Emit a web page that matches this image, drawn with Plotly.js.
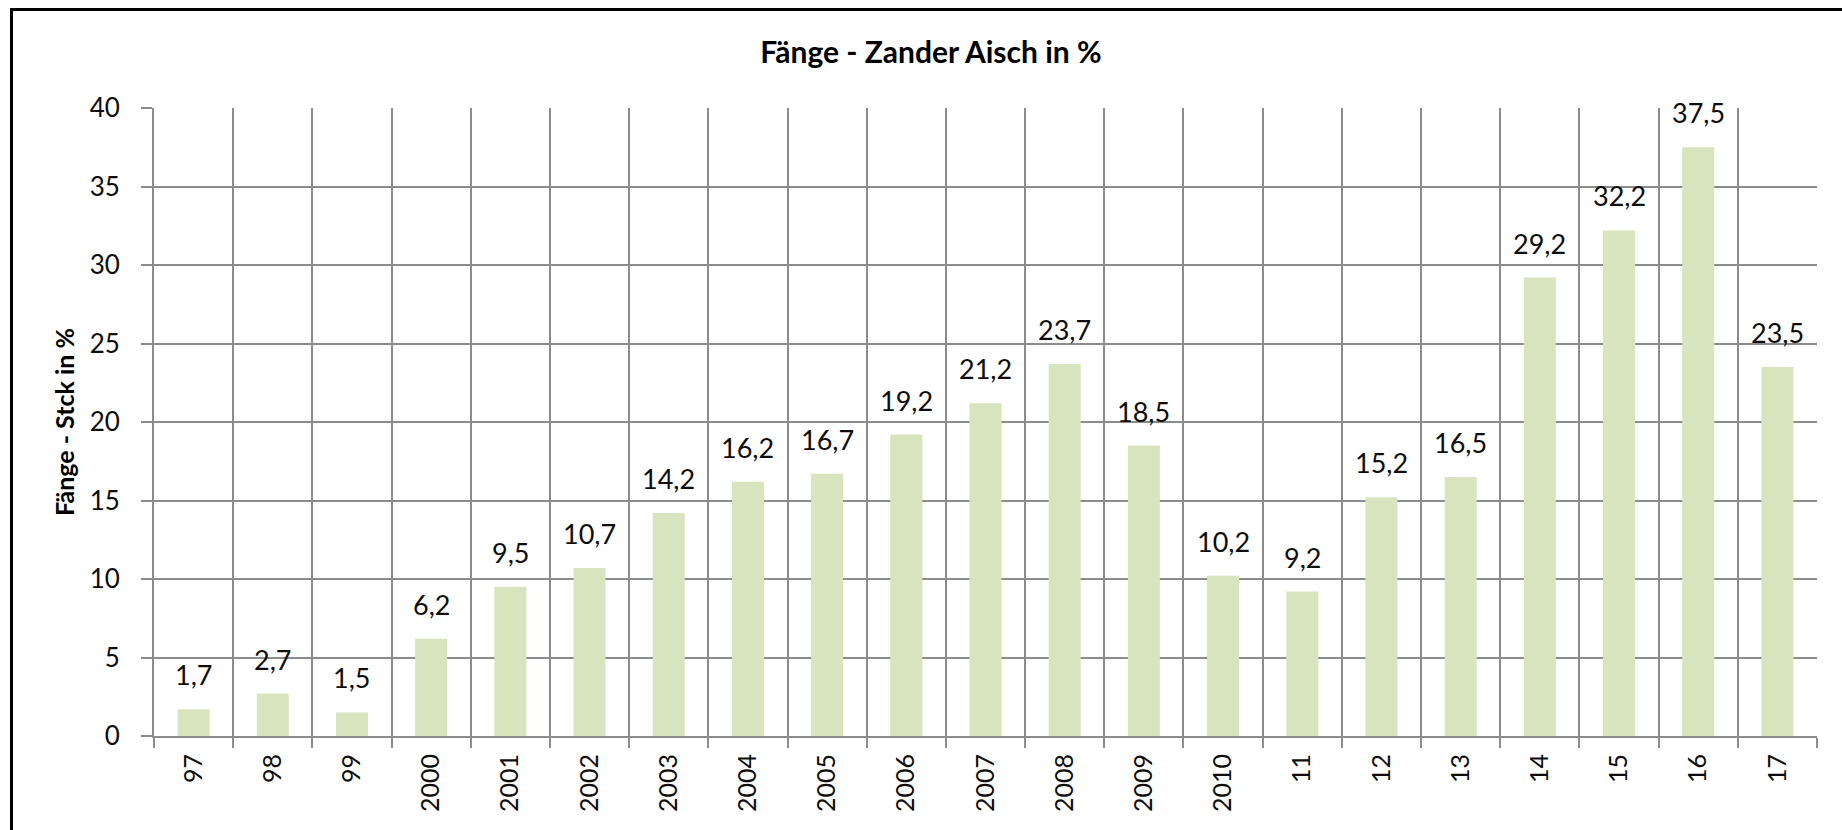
<!DOCTYPE html>
<html>
<head>
<meta charset="utf-8">
<script src="https://cdn.plot.ly/plotly-3.0.1.min.js"></script>
<style>
  html, body { margin: 0; padding: 0; background: #ffffff; overflow: hidden; }
  #chart { width: 1842px; height: 830px; }
  #frame { position: absolute; left: 10px; top: 8px; width: 2000px; height: 2000px;
           border-left: 3px solid #000; border-top: 3px solid #000; pointer-events: none; }
</style>
</head>
<body>
<div id="chart"></div>
<div id="frame"></div>
<script>
const categories = ["97", "98", "99", "2000", "2001", "2002", "2003", "2004", "2005", "2006",
                    "2007", "2008", "2009", "2010", "11", "12", "13", "14", "15", "16", "17"];
const values = [1.7, 2.7, 1.5, 6.2, 9.5, 10.7, 14.2, 16.2, 16.7, 19.2,
                21.2, 23.7, 18.5, 10.2, 9.2, 15.2, 16.5, 29.2, 32.2, 37.5, 23.5];
const yTicks = [0, 5, 10, 15, 20, 25, 30, 35, 40];

const chartTitle = "Fänge - Zander Aisch in %";
const yTitle = "Fänge - Stck in %";

const gridColor = "#8c8c8c";
const labelFont = "Lato, 'Open Sans', sans-serif";

const labels = values.map(v => v.toFixed(1).replace(".", ","));

const trace = {
  type: "bar",
  x: categories,
  y: values,
  marker: { color: "#d7e4bd", line: { width: 0 } },
  hoverinfo: "x+y"
};

// category axis: annotation x given as category index
const annotations = values.map((v, i) => ({
  x: i, y: v, xref: "x", yref: "y",
  text: labels[i], showarrow: false,
  xanchor: "center", yanchor: "bottom", yshift: 16,
  font: { family: labelFont, size: 27, color: "#0d0d0d" }
}));

const layout = {
  width: 1842, height: 830,
  margin: { l: 154, r: 25, t: 108, b: 94 },
  paper_bgcolor: "#ffffff",
  plot_bgcolor: "#ffffff",
  showlegend: false,
  bargap: 0.596,
  title: {
    text: "<b>" + chartTitle + "</b>",
    font: { family: labelFont, size: 30, color: "#000000" },
    xref: "container", x: 0.5054, xanchor: "center",
    yref: "container", y: 0.937, yanchor: "middle"
  },
  xaxis: {
    type: "category",
    categoryorder: "array",
    categoryarray: categories,
    range: [-0.5, categories.length - 0.5],
    autorange: false,
    tickson: "boundaries",
    ticks: "outside", ticklen: 10, tickwidth: 2, tickcolor: gridColor,
    tickangle: -90,
    showgrid: true, gridcolor: gridColor, gridwidth: 2,
    showline: true, linecolor: gridColor, linewidth: 2,
    ticklabelstandoff: 6,
    tickfont: { family: labelFont, size: 25, color: "#0d0d0d" },
    fixedrange: true
  },
  yaxis: {
    range: [0, 40],
    autorange: false,
    tickvals: yTicks,
    ticktext: yTicks.map(String),
    ticks: "outside", ticklen: 11, tickwidth: 2, tickcolor: gridColor,
    showgrid: true, gridcolor: gridColor, gridwidth: 2,
    showline: true, linecolor: gridColor, linewidth: 2,
    zeroline: false,
    ticklabelstandoff: 16,
    tickfont: { family: labelFont, size: 26, color: "#0d0d0d" },
    title: {
      text: "<b>" + yTitle + "</b>",
      font: { family: labelFont, size: 25, color: "#000000" },
      standoff: 8
    },
    fixedrange: true
  },
  annotations: annotations
};

Plotly.newPlot("chart", [trace], layout, { displayModeBar: false, staticPlot: true });
</script>
</body>
</html>
